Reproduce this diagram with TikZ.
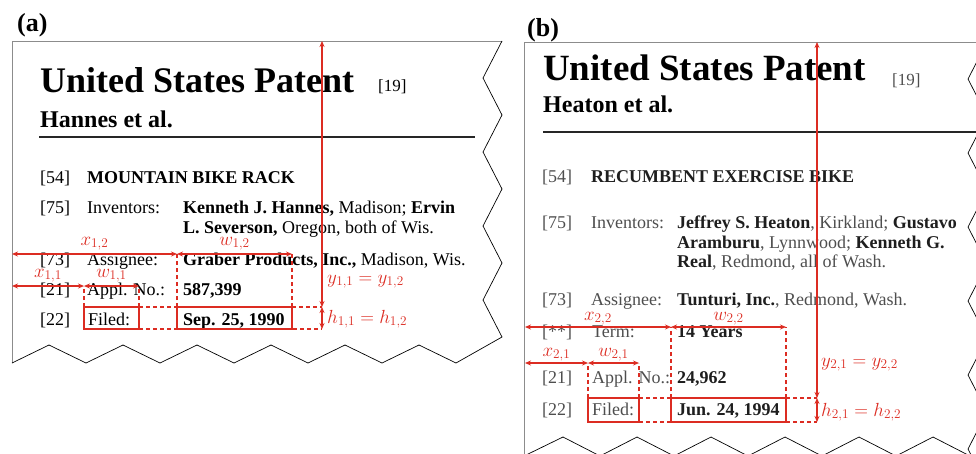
\RequirePackage{fix-cm}
\documentclass[tikz,border=0pt]{standalone}
\usepackage{fontspec}
\setmainfont{Liberation Serif}
\usetikzlibrary{arrows.meta}

\definecolor{dimred}{RGB}{220,44,34}
\definecolor{edgegray}{RGB}{140,140,140}
\definecolor{inkreg}{RGB}{78,78,78}
\definecolor{inkbold}{RGB}{30,30,30}
\newcommand{\heavy}[1]{{\bfseries\color{inkbold}#1}}

\begin{document}
\begin{tikzpicture}[x=1pt, y=-1pt,
  every node/.style={inner sep=0pt},
  body/.style={anchor=base west, font=\fontsize{18}{20}\selectfont},
  bodyg/.style={body, text=inkreg},
  headline/.style={anchor=base west, font=\fontsize{36}{40}\selectfont\bfseries},
  author/.style={anchor=base west, font=\fontsize{24}{28}\selectfont\bfseries},
  refno/.style={anchor=base west, font=\fontsize{17}{20}\selectfont},
  panellabel/.style={anchor=base west, font=\fontsize{26}{30}\selectfont\bfseries},
  rulerline/.style={line width=2pt, black!85},
  frame/.style={draw=edgegray, line width=1pt},
  zig/.style={draw=black, line width=0.7pt, line join=miter},
  dim/.style={draw=dimred, line width=1.3pt,
    {Stealth[length=6pt,width=5pt]}-{Stealth[length=6pt,width=5pt]}},
  guide/.style={draw=dimred, line width=1.1pt, dash pattern=on 4pt off 3pt},
  fieldbox/.style={draw=dimred, line width=2.8pt, outer sep=0pt, anchor=north west},
  sym/.style={text=dimred, font=\fontsize{19}{22}\selectfont},
]
\useasboundingbox (0,0) rectangle (976,453);
\clip (0,0) rectangle (976,453);

% ---------------- panel (a) ----------------
\draw[frame] (12,363) -- (12,41) -- (502,41);
\draw[zig] (502,41) -- (483,78) -- (502,115) -- (483,152) -- (502,189)
  -- (483,226) -- (502,263) -- (483,300) -- (502,337) -- (456,363)
  -- (419,345) -- (382,363) -- (345,345) -- (308,363) -- (271,345)
  -- (234,363) -- (197,345) -- (160,363) -- (123,345) -- (86,363)
  -- (49,345) -- (12,363);

\node[panellabel] (pa) at (17,31) {(a)};
\node[headline] (usa) at (40,92) {United States Patent};
\node[refno] (n19a) at (378,91) {[19]};
\node[author] (auta) at (40,127) {Hannes et al.};
\draw[rulerline] (39,137) -- (475,137);

\node[body] (a54) at (40,183) {[54]};
\node[body] (a54t) at (87,183) {\textbf{MOUNTAIN BIKE RACK}};
\node[body] (a75) at (40,213) {[75]};
\node[body] (a75k) at (87,213) {Inventors:};
\node[body] (a75v) at (183,213) {\textbf{Kenneth J. Hannes,} Madison; \textbf{Ervin}};
\node[body] (a75w) at (183,233) {\textbf{L. Severson,} Oregon, both of Wis.};
\node[body] (a73) at (40,265) {[73]};
\node[body] (a73k) at (87,265) {Assignee:};
\node[body] (a73v) at (183,265) {\textbf{Graber Products, Inc.,} Madison, Wis.};
\node[body] (a21) at (40,295) {[21]};
\node[body] (a21k) at (87,295) {Appl. No.:};
\node[body] (a21v) at (183,295) {\textbf{587,399}};
\node[body] (a22) at (40,325) {[22]};
\node[body] (a22k) at (88,325) {Filed:};
\node[body] (a22v) at (183,325) {\textbf{Sep. 25, 1990}};

% field boxes and their measures
\node[fieldbox, minimum width=55pt, minimum height=22pt] (fa1) at (84,307) {};
\node[fieldbox, minimum width=115pt, minimum height=22pt] (fa2) at (177,307) {};
\coordinate (ra1) at (12,286);
\coordinate (ra2) at (12,254);
\coordinate (topa) at (322,41);

\draw[guide] (fa1.north west) -- (fa1.north west |- ra1);
\draw[guide] (fa1.north east) -- (fa1.north east |- ra1);
\draw[guide] (fa2.north west) -- (fa2.north west |- ra2);
\draw[guide] (fa2.north east) -- (fa2.north east |- ra2);
\draw[guide] (fa1.north east) -- (fa2.north west);
\draw[guide] (fa2.north east) -- (topa |- fa2.north);
\draw[guide] (fa1.south east) -- (topa |- fa2.south);

\draw[dim] (ra2) -- (ra2 -| fa2.west) node[sym, pos=.5, anchor=base, yshift=9pt] (lx12) {$x_{1,2}$};
\draw[dim] (ra2 -| fa2.west) -- (ra2 -| fa2.east) node[sym, pos=.5, anchor=base, yshift=9pt] (lw12) {$w_{1,2}$};
\draw[dim] (ra1) -- (ra1 -| fa1.west) node[sym, pos=.5, anchor=base, yshift=9pt] (lx11) {$x_{1,1}$};
\draw[dim] (ra1 -| fa1.west) -- (ra1 -| fa1.east) node[sym, pos=.5, anchor=base, yshift=9pt] (lw11) {$w_{1,1}$};
\draw[dim] (topa) -- (topa |- fa2.north);
\draw[dim] (topa |- fa2.north) -- (topa |- fa2.south);
\node[sym, anchor=base west] (lya) at (327,283) {$y_{1,1}=y_{1,2}$};
\node[sym, anchor=base west] (lha) at (327,323) {$h_{1,1}=h_{1,2}$};

% ---------------- panel (b) ----------------
\draw[frame] (524,460) -- (524,42) -- (987,42);
\draw[zig] (987,42) -- (968,79) -- (987,116) -- (968,153) -- (987,190)
  -- (968,227) -- (987,264) -- (968,301) -- (987,338) -- (968,375)
  -- (987,412) -- (968,449) -- (987,486);
\draw[zig] (524,456) -- (563,437) -- (600,456) -- (637,437) -- (674,456)
  -- (711,437) -- (748,456) -- (785,437) -- (822,456) -- (859,437)
  -- (896,456) -- (933,437) -- (970,456);

\node[panellabel] (pb) at (527,36) {(b)};
\node[headline, font=\fontsize{37}{40}\selectfont\bfseries] (usb) at (543,80) {United States Patent};
\node[refno, text=inkreg] (n19b) at (892,85) {[19]};
\node[author] (autb) at (543,112) {Heaton et al.};
\draw[rulerline] (543,132) -- (980,132);

\node[bodyg] (b54) at (542,182) {[54]};
\node[bodyg] (b54t) at (591,182) {\heavy{RECUMBENT EXERCISE BIKE}};
\node[bodyg] (b75) at (542,228) {[75]};
\node[bodyg] (b75k) at (591,228) {Inventors:};
\node[bodyg] (b75v) at (677,228) {\heavy{Jeffrey S. Heaton}, Kirkland; \heavy{Gustavo}};
\node[bodyg] (b75w) at (677,248) {\heavy{Aramburu}, Lynnwood; \heavy{Kenneth G.}};
\node[bodyg] (b75x) at (677,267) {\heavy{Real}, Redmond, all of Wash.};
\node[bodyg] (b73) at (542,305) {[73]};
\node[bodyg] (b73k) at (591,305) {Assignee:};
\node[bodyg] (b73v) at (677,305) {\heavy{Tunturi, Inc.}, Redmond, Wash.};
\node[bodyg] (bst) at (542,337) {[**]};
\node[bodyg] (bstk) at (592,337) {Term:};
\node[bodyg] (bstv) at (677,337) {\heavy{14 Years}};
\node[bodyg] (b21) at (542,383) {[21]};
\node[bodyg] (b21k) at (592,383) {Appl. No.:};
\node[bodyg] (b21v) at (677,383) {\heavy{24,962}};
\node[bodyg] (b22) at (542,415) {[22]};
\node[bodyg] (b22k) at (592,415) {Filed:};
\node[bodyg] (b22v) at (677,415) {\heavy{Jun. 24, 1994}};

\node[fieldbox, minimum width=51pt, minimum height=24pt] (fb1) at (588,398) {};
\node[fieldbox, minimum width=115pt, minimum height=24pt] (fb2) at (671,398) {};
\coordinate (rb1) at (525,363);
\coordinate (rb2) at (525,327);
\coordinate (topb) at (817,42);

\draw[guide] (fb1.north west) -- (fb1.north west |- rb1);
\draw[guide] (fb1.north east) -- (fb1.north east |- rb1);
\draw[guide] (fb2.north west) -- (fb2.north west |- rb2);
\draw[guide] (fb2.north east) -- (fb2.north east |- rb2);
\draw[guide] (fb1.north east) -- (fb2.north west);
\draw[guide] (fb2.north east) -- (topb |- fb2.north);
\draw[guide] (fb1.south east) -- (topb |- fb2.south);

\draw[dim] (rb2) -- (rb2 -| fb2.west) node[sym, pos=.5, anchor=base, yshift=7pt] (lx22) {$x_{2,2}$};
\draw[dim] (rb2 -| fb2.west) -- (rb2 -| fb2.east) node[sym, pos=.5, anchor=base, yshift=7pt] (lw22) {$w_{2,2}$};
\draw[dim] (rb1) -- (rb1 -| fb1.west) node[sym, pos=.5, anchor=base, yshift=7pt] (lx21) {$x_{2,1}$};
\draw[dim] (rb1 -| fb1.west) -- (rb1 -| fb1.east) node[sym, pos=.5, anchor=base, yshift=7pt] (lw21) {$w_{2,1}$};
\draw[dim] (topb) -- (topb |- fb2.north);
\draw[dim] (topb |- fb2.north) -- (topb |- fb2.south);
\node[sym, anchor=base west] (lyb) at (821,366) {$y_{2,1}=y_{2,2}$};
\node[sym, anchor=base west] (lhb) at (821,416) {$h_{2,1}=h_{2,2}$};
\end{tikzpicture}
\end{document}
